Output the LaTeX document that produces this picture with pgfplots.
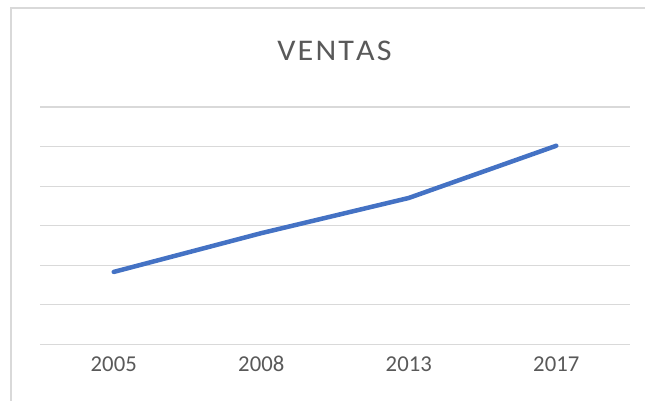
\documentclass[border=0pt]{standalone}
\usepackage{fontspec}
\setmainfont{Carlito}
\usepackage{pgfplots}
\pgfplotsset{compat=1.18}
\definecolor{gridc}{HTML}{D9D9D9}
\definecolor{txt}{HTML}{595959}
\definecolor{linec}{HTML}{4472C4}
\begin{document}
\begin{tikzpicture}[x=1pt,y=1pt]
\path[use as bounding box] (0,0) rectangle (645,400);
\draw[gridc, line width=1.5pt] (11,-5) -- (11,392) -- (650,392);
\node[anchor=base, text=txt, inner sep=0pt, font=\fontsize{30}{34}\selectfont] at (334.5,340) {\scalebox{1.07}[1]{V\kern2pt E\kern2pt N\kern2pt T\kern2pt A\kern2pt S}};
\begin{axis}[
  at={(40pt,55.7pt)}, anchor=south west, scale only axis,
  width=590pt, height=237.3pt,
  xmin=-0.5, xmax=3.5, ymin=0, ymax=60,
  xtick={0,1,2,3}, xticklabels={2005,2008,2013,2017},
  ytick={0,10,...,60}, yticklabels={},
  ymajorgrids, grid style={gridc, line width=1.2pt},
  axis line style={draw=none}, tick style={draw=none}, major tick length=0pt,
  xticklabel style={anchor=base, yshift=-27.4pt, text=txt, font=\fontsize{22.7}{27}\selectfont},
  clip=false,
]
\addplot[linec, line width=4.5pt, line cap=round, line join=round] coordinates {(0,18.3) (1,28.1) (2,37.0) (3,50.2)};
\end{axis}
\end{tikzpicture}
\end{document}
